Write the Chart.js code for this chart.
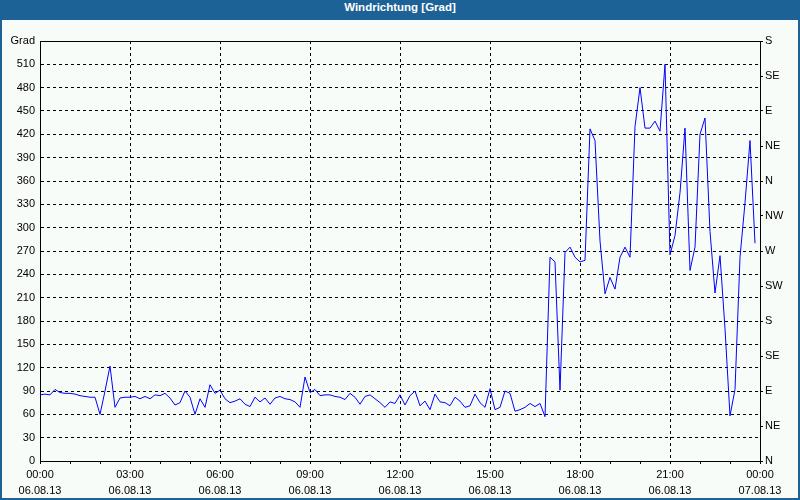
<!DOCTYPE html>
<html>
<head>
<meta charset="utf-8">
<script src="https://cdn.jsdelivr.net/npm/chart.js@4.4.1/dist/chart.umd.min.js"></script>
<style>
    body { margin: 0; }
    #frame { position: relative; width: 800px; height: 500px; background: #1d6297; }
    #title { position: absolute; left: 0; top: 1px; width: 800px; height: 20px; line-height: 20px;
             text-align: center; color: #fff; font: bold 11.5px "Liberation Sans", Arial, sans-serif; }
    #box { position: absolute; left: 2px; top: 20px; width: 796px; height: 478px; background: #f8fcf8; }
</style>
</head>
<body>
<div id="frame">
    <div id="title">Windrichtung [Grad]</div>
    <div id="box"><canvas id="myChart" width="796" height="478"></canvas></div>
</div>
<script>
// wind direction in degrees, one value every 10 minutes from 06.08.13 00:00
const windDir = [
    85, 86, 85, 92, 88, 87, 87, 86, 84, 83, 82, 82, 60, 90, 122, 69, 81, 82,
    82, 83, 80, 83, 80, 85, 84, 87, 81, 72, 75, 90, 82, 60, 80, 69, 98, 87,
    91, 80, 75, 77, 80, 73, 70, 82, 76, 81, 73, 81, 83, 80, 79, 76, 69, 108,
    88, 92, 84, 85, 85, 83, 82, 79, 87, 82, 73, 83, 85, 80, 75, 69, 76, 74,
    85, 72, 84, 90, 71, 77, 66, 86, 76, 75, 71, 82, 77, 69, 71, 86, 75, 69,
    93, 66, 69, 90, 87, 64, 66, 69, 74, 70, 74, 57, 262, 256, 91, 268, 275, 262,
    256, 258, 427, 412, 283, 215, 236, 221, 262, 275, 262, 430, 480, 428, 428, 437,
    424, 510, 265, 290, 345, 428, 245, 275, 420, 441, 295, 216, 264, 170, 58, 92,
    262, 332, 412, 280
];
const stepMinutes = 10;

const timeLabels = ['00:00', '03:00', '06:00', '09:00', '12:00', '15:00', '18:00', '21:00', '00:00'];
const dateLabels = ['06.08.13', '06.08.13', '06.08.13', '06.08.13', '06.08.13', '06.08.13', '06.08.13', '06.08.13', '07.08.13'];
const compassLabels = ['N', 'NE', 'E', 'SE', 'S', 'SW', 'W', 'NW', 'N', 'NE', 'E', 'SE', 'S'];

const points = windDir.map((v, i) => ({ x: i * stepMinutes, y: v }));
const font = { family: '"Liberation Sans", Arial, sans-serif', size: 11 };

// solid frame round the plot area
const frameBox = {
    id: 'frameBox',
    beforeDatasetsDraw(chart) {
        const a = chart.chartArea;
        const c = chart.ctx;
        c.save();
        c.strokeStyle = '#000';
        c.lineWidth = 1;
        c.strokeRect(Math.round(a.left) + 0.5, Math.round(a.top) + 0.5,
            Math.round(a.right - a.left), Math.round(a.bottom - a.top));
        c.restore();
    }
};

new Chart(document.getElementById('myChart'), {
    type: 'line',
    data: {
        datasets: [{
            data: points,
            borderColor: '#0000ff',
            borderWidth: 1,
            pointRadius: 0,
            tension: 0,
            fill: false
        }]
    },
    options: {
        responsive: false,
        animation: false,
        layout: { padding: { top: 21, left: 0, right: 0, bottom: 0 } },
        plugins: { legend: { display: false }, tooltip: { enabled: false } },
        scales: {
            x: {
                type: 'linear',
                min: 0,
                max: 1440,
                afterFit(scale) { scale.height = 37; },
                afterBuildTicks(scale) {
                    scale.ticks = [];
                    for (let m = 0; m <= 1440; m += 60) scale.ticks.push({ value: m });
                },
                ticks: {
                    autoSkip: false,
                    maxRotation: 0,
                    padding: 3,
                    color: '#000',
                    font: { ...font, lineHeight: 1.45 },
                    callback: (v) => v % 180 === 0 ? [timeLabels[v / 180], dateLabels[v / 180]] : ''
                },
                grid: {
                    color: (ctx) => ctx.tick && ctx.tick.value % 180 === 0 ? '#000' : 'rgba(0,0,0,0)',
                    tickColor: '#000',
                    tickLength: 3,
                    lineWidth: 1
                },
                border: { display: true, color: '#000', dash: [3, 3] }
            },
            y: {
                position: 'left',
                min: 0,
                max: 540,
                afterFit(scale) { scale.width = 38; },
                ticks: {
                    stepSize: 30,
                    padding: 5,
                    color: '#000',
                    font: font,
                    callback: (v) => v === 540 ? 'Grad' : v
                },
                grid: { color: '#000', drawTicks: false, lineWidth: 1 },
                border: { display: true, color: '#000', dash: [3, 3] }
            },
            y2: {
                position: 'right',
                min: 0,
                max: 540,
                afterFit(scale) { scale.width = 38; },
                ticks: {
                    stepSize: 45,
                    padding: 2,
                    color: '#000',
                    font: font,
                    callback: (v) => compassLabels[Math.round(v / 45)]
                },
                grid: { drawOnChartArea: false, tickColor: '#000', tickLength: 3 },
                border: { display: true, color: '#000' }
            }
        }
    },
    plugins: [frameBox]
});
</script>
</body>
</html>
